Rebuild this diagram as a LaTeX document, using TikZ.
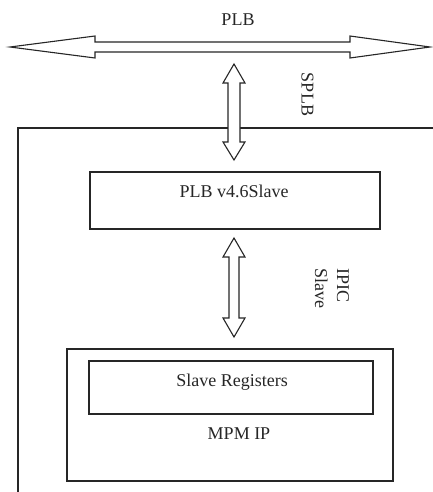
\documentclass[tikz,border=0pt]{standalone}
\usepackage{fontspec}
\setmainfont{Liberation Serif}
\begin{document}
\begin{tikzpicture}[x=1pt,y=-1pt,
  box/.style={draw=black!85, line width=1.4pt, rectangle, inner sep=0pt},
  blockarrow/.style={draw=black!85, fill=white, line width=1.1pt, line join=miter},
  lbl/.style={font=\fontsize{18}{22}\selectfont, inner sep=0pt, text=black!85},
  frame/.style={draw=black!85, line width=1.4pt}]
\useasboundingbox (0,0) rectangle (432,492);
% outer frame (cropped)
\draw[frame] (18,500) -- (18,128) -- (440,128);
% PLB bus arrow
\coordinate (plbL) at (10,47);
\coordinate (plbR) at (430,47);
\draw[blockarrow] (plbL) -- (95,36) -- (95,42) -- (350,42) -- (350,36) -- (plbR)
  -- (350,58) -- (350,52) -- (95,52) -- (95,58) -- cycle;
\node[lbl, anchor=base] (plbtxt) at (238,26) {PLB};
% boxes
\node[box, minimum width=290pt, minimum height=57pt] (plbs) at (235,200.5) {};
\node[lbl, anchor=base] (plbstxt) at (234,197) {PLB v4.6Slave};
\node[box, minimum width=326pt, minimum height=132pt] (mpm) at (230,415) {};
\node[box, minimum width=284pt, minimum height=53pt] (regs) at (231,387.5) {};
\node[lbl, anchor=base] (regstxt) at (232,386) {Slave Registers};
\node[lbl, anchor=base] (mpmtxt) at (239,439) {MPM IP};
% SPLB arrow
\coordinate (splbT) at (234,64);
\coordinate (splbB) at (234,160);
\draw[blockarrow] (splbT) -- (245,83) -- (240,83) -- (240,142) -- (245,142) -- (splbB)
  -- (223,142) -- (228,142) -- (228,83) -- (223,83) -- cycle;
\node[lbl, rotate=-90] (splbtxt) at (307.5,94.5) {SPLB};
% IPIC arrow
\coordinate (ipicT) at (234,238);
\coordinate (ipicB) at (234,337);
\draw[blockarrow] (ipicT) -- (245,257) -- (239,257) -- (239,318) -- (245,318) -- (ipicB)
  -- (223,318) -- (229,318) -- (229,257) -- (223,257) -- cycle;
\node[lbl, rotate=-90, align=left] (ipictxt) at (332,288) {IPIC\\Slave};
\end{tikzpicture}
\end{document}
